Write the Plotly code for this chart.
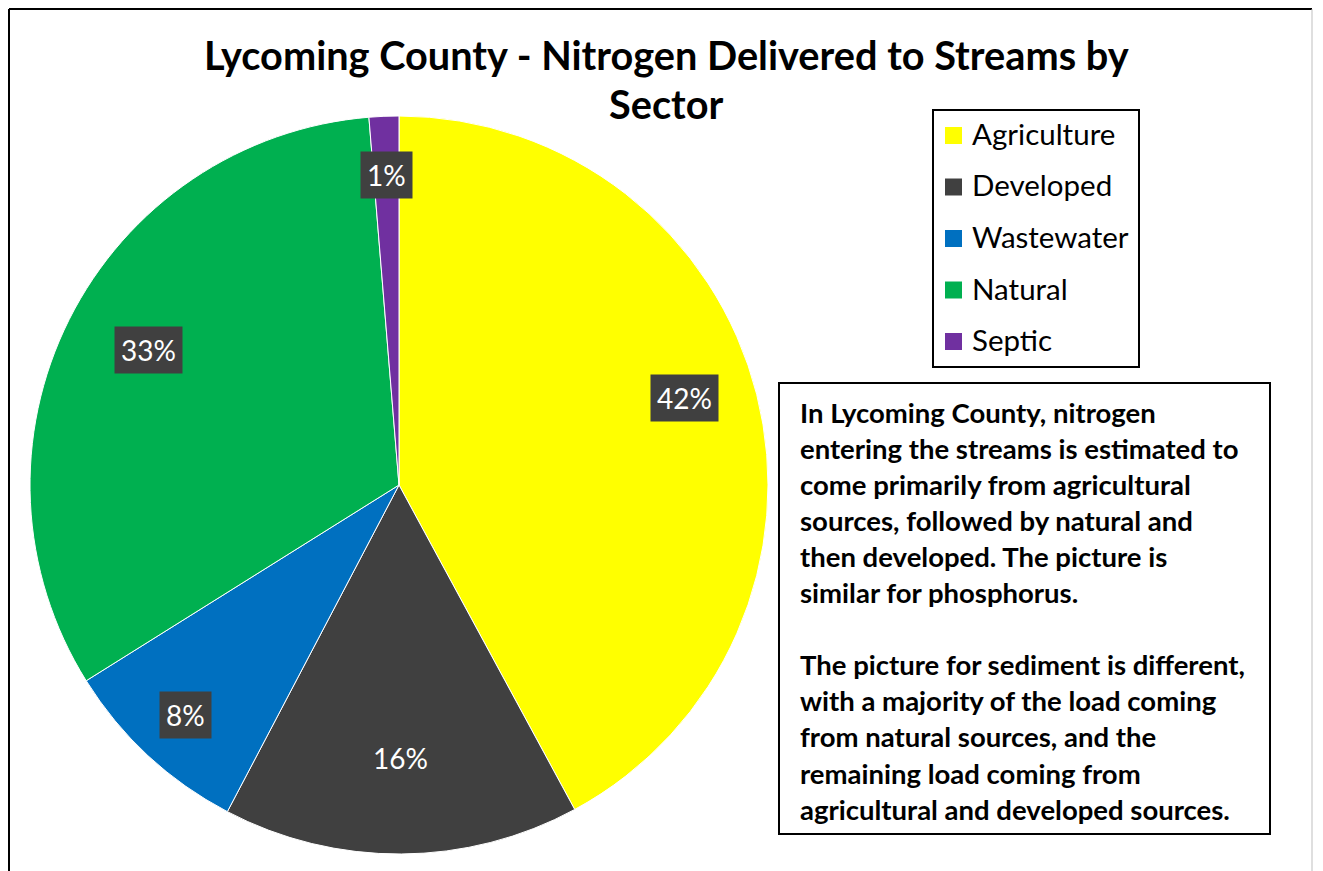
import math
import plotly.graph_objects as go

# ---- data ----
categories = ["Agriculture", "Developed", "Wastewater", "Natural", "Septic"]
values = [42.1, 15.6, 8.4, 32.6, 1.3]
colors = ["#FFFF00", "#404040", "#0070C0", "#00B050", "#7030A0"]
title_lines = ["Lycoming County - Nitrogen Delivered to Streams by", "Sector"]
note_lines = [
    "In Lycoming County, nitrogen",
    "entering the streams is estimated to",
    "come primarily from agricultural",
    "sources, followed by natural and",
    "then developed. The picture is",
    "similar for phosphorus.",
    "",
    "The picture for sediment is different,",
    "with a majority of the load coming",
    "from natural sources, and the",
    "remaining load coming from",
    "agricultural and developed sources.",
]

# label placement (styling only): fraction of radius and angular nudge in degrees
label_radius = [0.81, 0.74, 0.85, 0.77, 0.84]
label_angle_offset = [-2.7, 0, 0, 1.7, 0]

OFF = 8  # page body margin
W, H = 1323 - OFF, 871 - OFF
FONT = "Lato"


def px(x):
    return (x - OFF) / W


def py(y):
    return 1 - (y - OFF) / H


cx, cy, R = 399, 485, 369

fig = go.Figure(
    go.Pie(
        labels=categories,
        values=values,
        sort=False,
        direction="clockwise",
        rotation=0,
        marker=dict(colors=colors, line=dict(color="white", width=1)),
        textinfo="none",
        hoverinfo="label+percent",
        showlegend=False,
        domain=dict(x=[px(cx - R), px(cx + R)], y=[py(cy + R), py(cy - R)]),
    )
)

shapes = []
annotations = []

# outer chart border
shapes.append(dict(type="line", xref="paper", yref="paper", x0=px(9), x1=px(9), y0=py(9), y1=py(880),
                   line=dict(color="black", width=2)))
shapes.append(dict(type="line", xref="paper", yref="paper", x0=px(9), x1=px(1312), y0=py(9), y1=py(9),
                   line=dict(color="black", width=2)))
shapes.append(dict(type="line", xref="paper", yref="paper", x0=px(1312), x1=px(1312), y0=py(9), y1=py(880),
                   line=dict(color="#BFBFBF", width=1)))

# title
for i, t in enumerate(title_lines):
    annotations.append(dict(text=f"<b>{t}</b>", xref="paper", yref="paper", x=px(666), y=py(55 + 49 * i),
                            xanchor="center", yanchor="middle", showarrow=False,
                            font=dict(family=FONT, size=39.7, color="black")))

# data labels computed from values
total = sum(values)
cum = 0.0
for v, f, da in zip(values, label_radius, label_angle_offset):
    theta = 2 * math.pi * (cum + v / 2) / total + math.radians(da)
    cum += v
    lx = cx + f * R * math.sin(theta)
    ly = cy - f * R * math.cos(theta)
    annotations.append(dict(text=f"{round(100 * v / total)}%", xref="paper", yref="paper", x=px(lx), y=py(ly),
                            xanchor="center", yanchor="middle", showarrow=False, bgcolor="#404040",
                            borderpad=6, font=dict(family=FONT, size=28, color="white")))

# legend (manual)
shapes.append(dict(type="rect", xref="paper", yref="paper", x0=px(933), x1=px(1139), y0=py(110), y1=py(367),
                   line=dict(color="black", width=2), fillcolor="rgba(0,0,0,0)"))
for i, (c, col) in enumerate(zip(categories, colors)):
    yc = 135.5 + 51.5 * i
    shapes.append(dict(type="rect", xref="paper", yref="paper", x0=px(945), x1=px(962), y0=py(yc + 8.5),
                       y1=py(yc - 8.5), line=dict(width=0), fillcolor=col))
    annotations.append(dict(text=c, xref="paper", yref="paper", x=px(970), y=py(yc - 2),
                            xanchor="left", yanchor="middle", showarrow=False,
                            font=dict(family=FONT, size=29.5, color="black")))

# note box
shapes.append(dict(type="rect", xref="paper", yref="paper", x0=px(779), x1=px(1270), y0=py(383), y1=py(834),
                   line=dict(color="black", width=2), fillcolor="rgba(0,0,0,0)"))
for i, t in enumerate(note_lines):
    if not t:
        continue
    annotations.append(dict(text=f"<b>{t}</b>", xref="paper", yref="paper", x=px(798), y=py(412 + 36.1 * i),
                            xanchor="left", yanchor="middle", showarrow=False,
                            font=dict(family=FONT, size=27.5, color="black")))

fig.update_layout(
    width=W,
    height=H,
    margin=dict(l=0, r=0, t=0, b=0),
    paper_bgcolor="white",
    plot_bgcolor="white",
    shapes=shapes,
    annotations=annotations,
    showlegend=False,
)

fig.write_html("out.html")
